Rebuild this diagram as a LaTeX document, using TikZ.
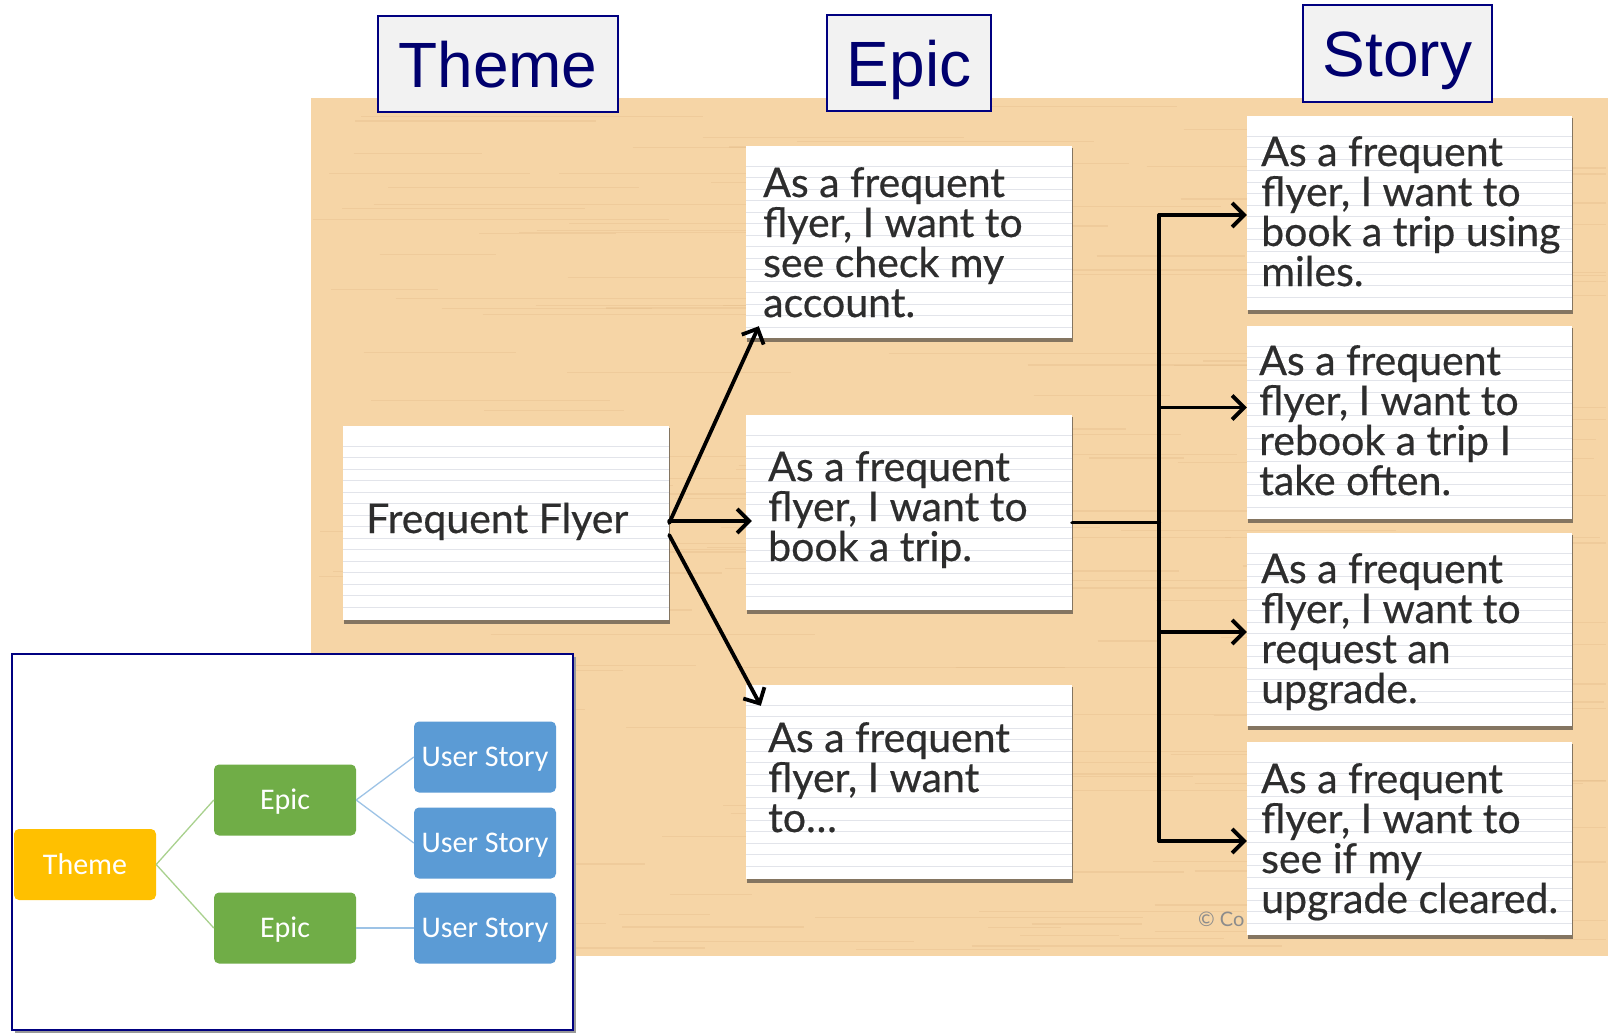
\documentclass[tikz,border=0pt]{standalone}
\usepackage{fontspec}
\setmainfont{Lato}
\newfontfamily\cardfont[FakeBold=0.5]{Lato}
\newfontfamily\labelfont{Liberation Sans}
\newfontfamily\boxfont{Carlito}
\usetikzlibrary{arrows.meta,calc}

\definecolor{tanbg}{RGB}{246,213,166}
\definecolor{grain}{RGB}{226,186,136}
\definecolor{navyline}{RGB}{0,0,128}
\definecolor{navytext}{RGB}{0,0,110}
\definecolor{labelfill}{RGB}{242,242,242}
\definecolor{cardink}{RGB}{45,45,45}
\definecolor{ruling}{RGB}{226,228,234}
\definecolor{cardshade}{RGB}{95,85,75}
\definecolor{themeorange}{RGB}{255,192,0}
\definecolor{epicgreen}{RGB}{112,173,71}
\definecolor{storyblue}{RGB}{91,155,213}
\definecolor{greenlink}{RGB}{169,209,142}
\definecolor{bluelink}{RGB}{157,195,230}

\tikzset{
  levellabel/.style={draw=navyline, line width=1.5pt, fill=labelfill, text=navytext,
    font=\labelfont\fontsize{64}{64}\selectfont, inner sep=0pt,
    text height=46pt, text depth=0pt},
  cardtext/.style={anchor=base west, inner sep=0pt, text=cardink,
    font=\cardfont\fontsize{41}{40}\selectfont},
  handarrow/.style={line width=3.8pt, line cap=round,
    -{Straight Barb[length=12pt,width=24pt]}},
  busline/.style={line width=3.8pt, line cap=round},
  ruled/.style={ruling, line width=1pt},
  minibox/.style={rounded corners=5pt, inner sep=0pt, minimum width=142pt,
    minimum height=71pt, text=white, font=\boxfont\fontsize{30}{30}\selectfont,
    text height=19pt, text depth=0pt},
  greenedge/.style={greenlink, line width=1.3pt},
  blueedge/.style={bluelink, line width=1.3pt},
}

% ruled index card: name, left, top, right, bottom
\newcommand\indexcard[5]{%
  \fill[cardshade, opacity=0.75] (#2+1,#3+2) rectangle (#4+1,#5+4);
  \fill[white] (#2,#3) rectangle (#4,#5);
  \begin{scope}
    \clip (#2,#3+8) rectangle (#4,#5-4);
    \foreach \k in {0,...,17} \draw[ruled] (#2,#3+20+11.5*\k) -- (#4,#3+20+11.5*\k);
  \end{scope}
  \node[inner sep=0pt, minimum width={#4-#2}, minimum height={#5-#3}] (#1)
    at ({(#2+#4)/2},{(#3+#5)/2}) {};
}

\begin{document}
\begin{tikzpicture}[x=1pt,y=-1pt]
\useasboundingbox (0,0) rectangle (1608,1033);
\fill[white] (0,0) rectangle (1608,1033);

% wooden board
\fill[tanbg] (311,98) rectangle (1608,956);
\pgfmathsetseed{42}
\foreach \i in {1,...,170}{
  \pgfmathsetmacro\gy{100+854*rnd}
  \pgfmathsetmacro\gx{311+1250*rnd}
  \pgfmathsetmacro\gl{60+320*rnd}
  \pgfmathsetmacro\ge{min(\gx+\gl,1606)}
  \draw[grain, opacity=0.35, line width=1.2pt] (\gx,\gy) -- (\ge,\gy);
}

% level labels
\node[levellabel, minimum width=240pt, minimum height=96pt] (hTheme) at (498,64) {Theme};
\node[levellabel, minimum width=164pt, minimum height=96pt] (hEpic) at (909,63) {Epic};
\node[levellabel, minimum width=189pt, minimum height=97pt] (hStory) at (1397.5,53.5) {Story};

% copyright mark, partly under the last card
\node[anchor=base west, inner sep=0pt, text=black!45, font=\fontsize{20}{20}\selectfont]
  (copy) at (1198,926) {\textcopyright\ Co};

% cards
\indexcard{ff}{343}{426}{669}{620}
\indexcard{e1}{746}{146}{1072}{338}
\indexcard{e2}{746}{415}{1072}{610}
\indexcard{e3}{746}{685}{1072}{879}
\indexcard{s1}{1247}{116}{1572}{310}
\indexcard{s2}{1247}{326}{1572}{519}
\indexcard{s3}{1247}{533}{1572}{726}
\indexcard{s4}{1247}{742}{1572}{935}

% card texts
\node[cardtext] (fft) at (366,533) {Frequent Flyer};
\node[cardtext] (e1t) at (763,197) {\parbox[t]{320pt}{As a frequent\\flyer, I want to\\see check my\\account.}};
\node[cardtext] (e2t) at (768,481) {\parbox[t]{320pt}{As a frequent\\flyer, I want to\\book a trip.}};
\node[cardtext] (e3t) at (768,752) {\parbox[t]{320pt}{As a frequent\\flyer, I want\\to\dots}};
\node[cardtext] (s1t) at (1261,166) {\parbox[t]{320pt}{As a frequent\\flyer, I want to\\book a trip using\\miles.}};
\node[cardtext] (s2t) at (1259,375) {\parbox[t]{320pt}{As a frequent\\flyer, I want to\\rebook a trip I\\take often.}};
\node[cardtext] (s3t) at (1261,583) {\parbox[t]{320pt}{As a frequent\\flyer, I want to\\request an\\upgrade.}};
\node[cardtext] (s4t) at (1261,793) {\parbox[t]{320pt}{As a frequent\\flyer, I want to\\see if my\\upgrade cleared.}};

% theme to epics
\draw[handarrow] (ff.east) -- ($(e1.south west)+(13,-12)$);
\draw[handarrow] ($(ff.east)+(0,-2)$) -- ($(e2.west)+(6,8.5)$);
\draw[handarrow] ($(ff.east)+(0,12)$) -- ($(e3.north west)+(15,21)$);

% epic to stories
\coordinate (busjoin) at ($(e2.east)+(87,10)$);
\draw[busline] ($(e2.east)+(0,10)$) -- (busjoin);
\coordinate (b1) at ($(busjoin |- s1.west)+(0,2)$);
\coordinate (b2) at ($(busjoin |- s2.west)+(0,-15)$);
\coordinate (b3) at ($(busjoin |- s3.west)+(0,2.5)$);
\coordinate (b4) at ($(busjoin |- s4.west)+(0,2.5)$);
\draw[busline] (b1) -- (b4);
\draw[handarrow] (b1) -- (b1 -| s1.west);
\draw[handarrow] (b2) -- (b2 -| s2.west);
\draw[handarrow] (b3) -- (b3 -| s3.west);
\draw[handarrow] (b4) -- (b4 -| s4.west);

% hierarchy inset
\fill[black!40] (15,657) rectangle (576,1033);
\draw[navyline, line width=2pt, fill=white] (12,654) rectangle (573,1030);
\node[minibox, fill=themeorange] (mTheme) at (85,864.5) {Theme};
\node[minibox, fill=epicgreen] (mEpicA) at (285,800) {Epic};
\node[minibox, fill=epicgreen] (mEpicB) at (285,928) {Epic};
\node[minibox, fill=storyblue] (mStoryA) at (485,757) {User Story};
\node[minibox, fill=storyblue] (mStoryB) at (485,843) {User Story};
\node[minibox, fill=storyblue] (mStoryC) at (485,928) {User Story};
\draw[greenedge] (mTheme.east) -- (mEpicA.west);
\draw[greenedge] (mTheme.east) -- (mEpicB.west);
\draw[blueedge] (mEpicA.east) -- (mStoryA.west);
\draw[blueedge] (mEpicA.east) -- (mStoryB.west);
\draw[blueedge] (mEpicB.east) -- (mStoryC.west);
\end{tikzpicture}
\end{document}
